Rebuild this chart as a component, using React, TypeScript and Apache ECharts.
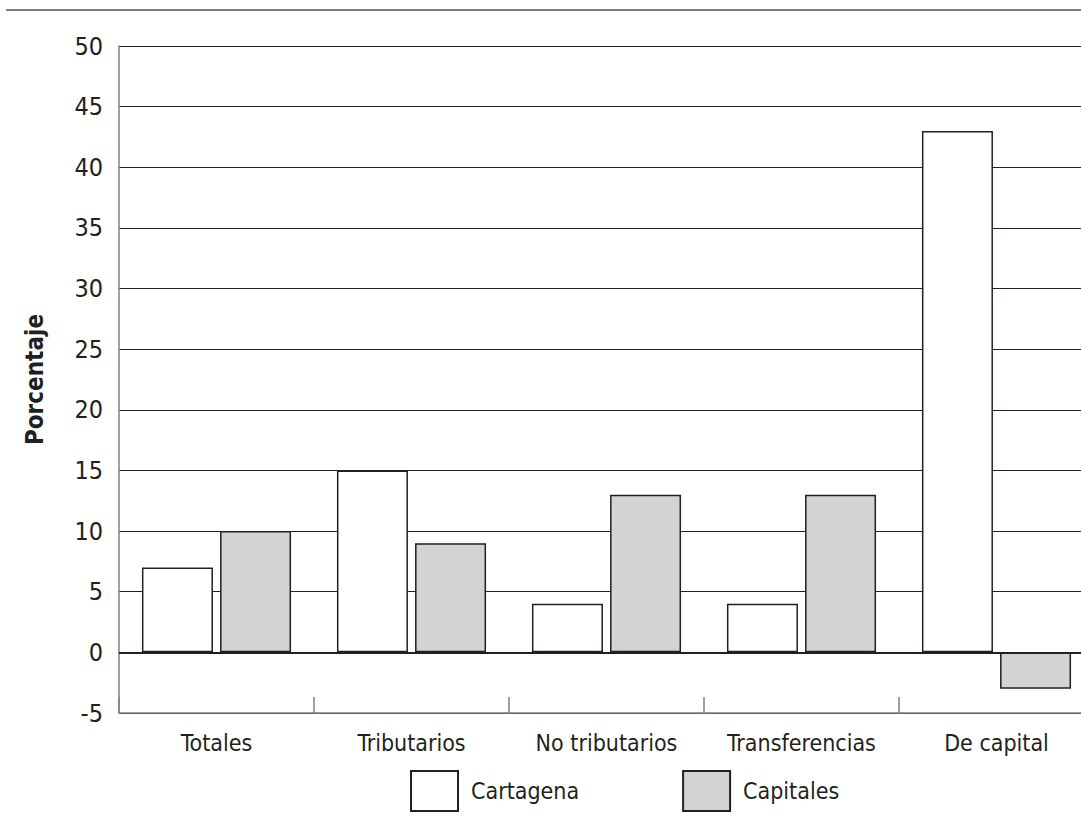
import React, { useEffect, useRef } from "react";
import * as echarts from "echarts";

const categories = ["Totales", "Tributarios", "No tributarios", "Transferencias", "De capital"];
const cartagena = [7, 15, 4, 4, 43];
const capitales = [10, 9, 13, 13, -3];
const seriesNames = ["Cartagena", "Capitales"];
const yAxisName = "Porcentaje";

const FONT = "DejaVu Sans Condensed, sans-serif";

export default function App() {
  const ref = useRef<HTMLDivElement>(null);
  useEffect(() => {
    if (!ref.current) return;
    const chart = echarts.init(ref.current, undefined, { renderer: "svg" });
    chart.setOption({
      animation: false,
      backgroundColor: "#ffffff",
      textStyle: { fontFamily: FONT },
      grid: { left: 119, top: 46, width: 975, height: 667 },
      legend: {
        data: seriesNames,
        left: 410,
        top: 770,
        padding: 0,
        itemWidth: 47,
        itemHeight: 40,
        itemGap: 103,
        icon: "rect",
        textStyle: { fontFamily: FONT, fontSize: 23, color: "#231f20", padding: [24, 0, 0, 8] },
      },
      xAxis: {
        type: "category",
        data: categories,
        axisLine: { onZero: false, lineStyle: { color: "#808080", width: 1.5 } },
        axisTick: { show: true, inside: true, length: 16, lineStyle: { color: "#808080", width: 1.5 } },
        axisLabel: { fontFamily: FONT, fontSize: 23, color: "#231f20", margin: 18 },
        splitLine: { show: false },
      },
      yAxis: {
        type: "value",
        min: -5,
        max: 50,
        interval: 5,
        name: yAxisName,
        nameLocation: "middle",
        nameGap: 72,
        nameRotate: 90,
        nameTextStyle: { fontFamily: FONT, fontSize: 24, fontWeight: "bold", color: "#231f20" },
        axisLine: { show: true, lineStyle: { color: "#808080", width: 1.5 } },
        axisTick: { show: false },
        axisLabel: { fontFamily: FONT, fontSize: 25, color: "#231f20", margin: 16 },
        splitLine: { show: true, lineStyle: { color: "#231f20", width: 1 } },
      },
      series: [
        {
          name: seriesNames[0],
          type: "bar",
          data: cartagena,
          barWidth: 71,
          barGap: "10%",
          itemStyle: { color: "#ffffff", borderColor: "#231f20", borderWidth: 1.5 },
          markLine: {
            silent: true,
            symbol: "none",
            label: { show: false },
            lineStyle: { color: "#231f20", width: 2, type: "solid" },
            data: [{ yAxis: 0 }],
          },
        },
        {
          name: seriesNames[1],
          type: "bar",
          data: capitales,
          barWidth: 71,
          barGap: "10%",
          itemStyle: { color: "#d1d3d4", borderColor: "#231f20", borderWidth: 1.5 },
        },
      ],
      graphic: [
        {
          type: "line",
          shape: { x1: 6, y1: 10, x2: 1100, y2: 10 },
          style: { stroke: "#555555", lineWidth: 1.5 },
        },
      ],
    });
    return () => chart.dispose();
  }, []);
  return (
    <div
      ref={ref}
      style={{ position: "fixed", left: 0, top: 0, width: 1100, height: 818, overflow: "hidden" }}
    />
  );
}
